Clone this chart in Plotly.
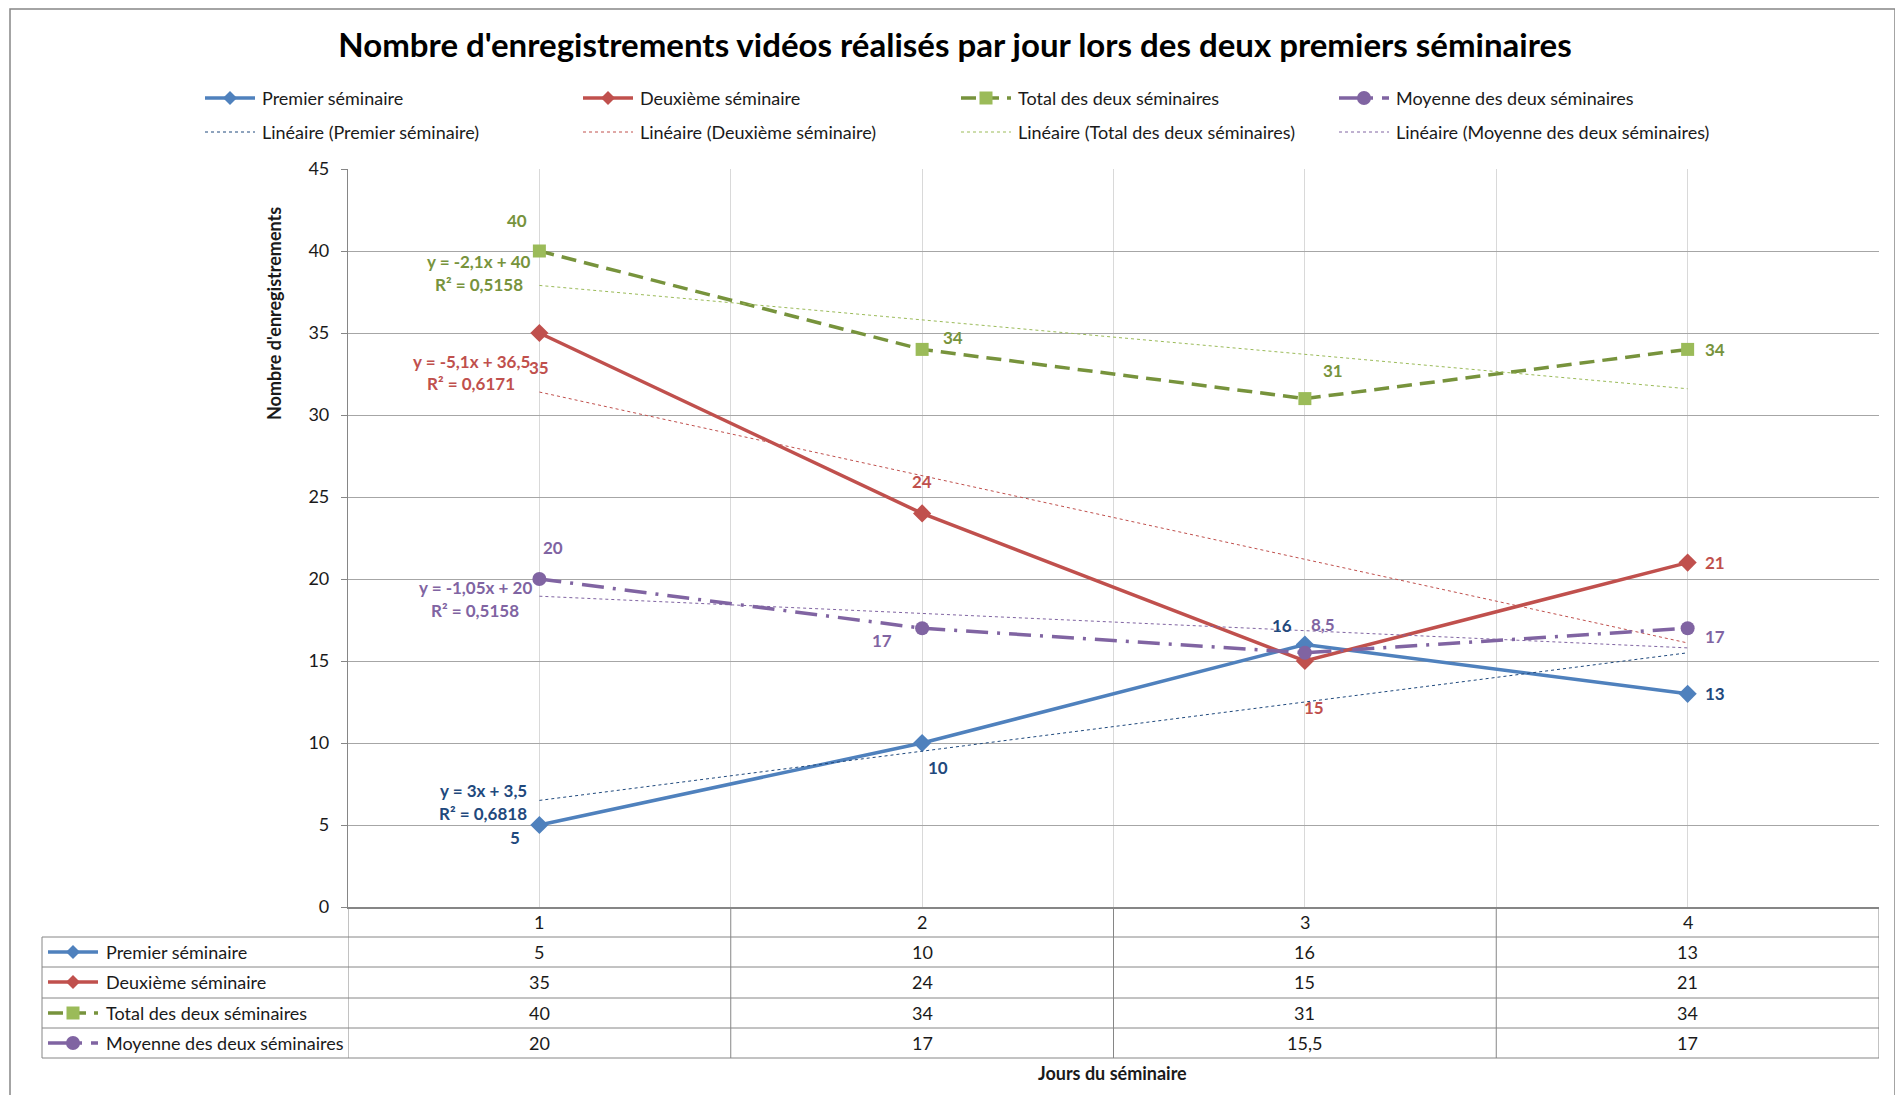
import numpy as np
import plotly.graph_objects as go

# ── data ──
days = [1, 2, 3, 4]
day_labels = ["1", "2", "3", "4"]
premier = [5, 10, 16, 13]
deuxieme = [35, 24, 15, 21]
total = [40, 34, 31, 34]
moyenne = [20, 17, 15.5, 17]
series_names = ["Premier séminaire", "Deuxième séminaire",
                "Total des deux séminaires", "Moyenne des deux séminaires"]
# data labels as printed on the chart
labels_premier = ["5", "10", "16", "13"]
labels_deuxieme = ["35", "24", "15", "21"]
labels_total = ["40", "34", "31", "34"]
labels_moyenne = ["20", "17", "8,5", "17"]
y_ticks = [0, 5, 10, 15, 20, 25, 30, 35, 40, 45]

TITLE = "Nombre d'enregistrements vidéos réalisés par jour lors des deux premiers séminaires"
Y_TITLE = "Nombre d'enregistrements"
X_TITLE = "Jours du séminaire"

# ── theme ──
FONT = "Lato, 'Open Sans', sans-serif"
TXT = "#1a1a1a"
GRID_H = "#a6a6a6"
GRID_V = "#d9d9d9"
AXIS = "#868686"

# the page body keeps an 8px margin: size the figure so the page is exactly the window
OFF = 8
W_FIG, H_FIG = 1903 - 2 * OFF, 1103 - 2 * OFF
# plot area, in window pixels
L, R, T, B = 348, 1879, 169, 907


def px(x):
    return (x - L) / (R - L)


def py(y):
    return (B - y) / (B - T)


STYLES = [
    dict(line="#4F81BD", marker="#4F81BD", label="#1F497D", trend="#1F497D",
         dash="solid", symbol="diamond", size=14,
         offsets=[(-24, -12), (16, -24), (-23, 19), (27, 0)], eq=(483, 790, 813)),
    dict(line="#C0504D", marker="#C0504D", label="#C0504D", trend="#C0504D",
         dash="solid", symbol="diamond", size=14,
         offsets=[(0, -34), (0, 32), (9, -46), (27, 0)], eq=(471, 361, 383)),
    dict(line="#77933C", marker="#9BBB59", label="#77933C", trend="#9BBB59",
         dash="15px,8px", symbol="square", size=13,
         offsets=[(-22, 31), (31, 12), (28, 28), (27, 0)], eq=(479, 262, 284)),
    dict(line="#8064A2", marker="#8064A2", label="#8064A2", trend="#8064A2",
         dash="22px,9px,3px,9px", symbol="circle", size=14,
         offsets=[(14, 32), (-40, -12), (18, 28), (27, -8)], eq=(475, 587, 610)),
]

values = [premier, deuxieme, total, moyenne]
labels = [labels_premier, labels_deuxieme, labels_total, labels_moyenne]


def fr(v):
    return f"{round(v, 4):g}".replace(".", ",")


fig = go.Figure()
annotations = []
shapes = []

x = np.array(days, dtype=float)
for name, vals, labs, st in zip(series_names, values, labels, STYLES):
    y = np.array(vals, dtype=float)
    slope, intercept = np.polyfit(x, y, 1)
    fit = slope * x + intercept
    r2 = 1 - ((y - fit) ** 2).sum() / ((y - y.mean()) ** 2).sum()

    fig.add_trace(go.Scatter(
        x=days, y=vals, mode="lines+markers", name=name,
        line=dict(color=st["line"], width=3.5, dash=st["dash"]),
        marker=dict(symbol=st["symbol"], size=st["size"], color=st["marker"]),
        showlegend=False,
    ))
    fig.add_trace(go.Scatter(
        x=days, y=fit, mode="lines", name=f"Linéaire ({name})",
        line=dict(color=st["trend"], width=1, dash="dot"),
        showlegend=False,
    ))

    for d, v, t, (dx, dy) in zip(days, vals, labs, st["offsets"]):
        annotations.append(dict(
            x=d, y=v, xref="x", yref="y", text=f"<b>{t}</b>", showarrow=False,
            xanchor="center", yanchor="middle",
            xshift=dx, yshift=dy, font=dict(family=FONT, size=17, color=st["label"]),
        ))

    # trendline equation box
    sign = "+" if intercept >= 0 else "-"
    eq1 = f"y = {fr(slope)}x {sign} {fr(abs(intercept))}"
    eq2 = f"R² = {r2:.4f}".replace(".", ",")
    cx, y1, y2 = st["eq"]
    for txt, yy in ((eq1, y1), (eq2, y2)):
        annotations.append(dict(
            x=px(cx), y=py(yy), xref="paper", yref="paper", text=f"<b>{txt}</b>",
            showarrow=False, xanchor="center", yanchor="middle",
            font=dict(family=FONT, size=17, color=st["label"]),
        ))


def key(x0, yc, st, trend=False, length=50):
    """legend key: line with marker in the middle"""
    if trend:
        shapes.append(dict(type="line", xref="paper", yref="paper",
                           x0=px(x0), x1=px(x0 + length), y0=py(yc), y1=py(yc),
                           line=dict(color=st["trend"], width=1, dash="dot")))
        return
    shapes.append(dict(type="line", xref="paper", yref="paper",
                       x0=px(x0), x1=px(x0 + length), y0=py(yc), y1=py(yc),
                       line=dict(color=st["line"], width=3.5, dash=st["dash"])))
    cx = x0 + length / 2
    if st["symbol"] == "diamond":
        r = 7
        path = (f"M {px(cx - r)},{py(yc)} L {px(cx)},{py(yc - r)} "
                f"L {px(cx + r)},{py(yc)} L {px(cx)},{py(yc + r)} Z")
        shapes.append(dict(type="path", xref="paper", yref="paper", path=path,
                           fillcolor=st["marker"], line=dict(width=0)))
    elif st["symbol"] == "square":
        r = 6.5
        shapes.append(dict(type="rect", xref="paper", yref="paper",
                           x0=px(cx - r), x1=px(cx + r), y0=py(yc + r), y1=py(yc - r),
                           fillcolor=st["marker"], line=dict(width=0)))
    else:
        r = 7
        shapes.append(dict(type="circle", xref="paper", yref="paper",
                           x0=px(cx - r), x1=px(cx + r), y0=py(yc + r), y1=py(yc - r),
                           fillcolor=st["marker"], line=dict(width=0)))


# ── top legend (4 columns x 2 rows) ──
for i, (name, st) in enumerate(zip(series_names, STYLES)):
    x0 = 205 + 378 * i
    key(x0, 98, st)
    annotations.append(dict(x=px(x0 + 55), y=py(98), xref="paper", yref="paper",
                            text=name, showarrow=False, xanchor="left", yanchor="middle",
                            font=dict(family=FONT, size=18, color=TXT)))
    key(x0, 132, st, trend=True)
    annotations.append(dict(x=px(x0 + 55), y=py(132), xref="paper", yref="paper",
                            text=f"Linéaire ({name})", showarrow=False, xanchor="left",
                            yanchor="middle", font=dict(family=FONT, size=18, color=TXT)))

# ── data table under the plot ──
row_lines = [937, 967, 998, 1028, 1058]
row_centers = [952, 982, 1013, 1043]
TABLE_LEFT = 42
for yy in row_lines:
    shapes.append(dict(type="line", xref="paper", yref="paper",
                       x0=px(TABLE_LEFT), x1=1, y0=py(yy), y1=py(yy),
                       line=dict(color=AXIS, width=1)))
shapes.append(dict(type="line", xref="paper", yref="paper",
                   x0=px(TABLE_LEFT), x1=px(TABLE_LEFT), y0=py(937), y1=py(1058),
                   line=dict(color=AXIS, width=1)))
for xb in [0.5, 1.5, 2.5, 3.5, 4.5]:
    shapes.append(dict(type="line", xref="x", yref="paper",
                       x0=xb, x1=xb, y0=py(907), y1=py(1058),
                       line=dict(color=AXIS, width=1)))

for d, t in zip(days, day_labels):
    annotations.append(dict(x=d, y=py(922), xref="x", yref="paper", text=t,
                            showarrow=False, xanchor="center", yanchor="middle",
                            font=dict(family=FONT, size=18, color=TXT)))

for name, vals, st, yc in zip(series_names, values, STYLES, row_centers):
    key(48, yc, st)
    annotations.append(dict(x=px(104), y=py(yc), xref="paper", yref="paper", text=name,
                            showarrow=False, xanchor="left", yanchor="middle",
                            font=dict(family=FONT, size=18, color=TXT)))
    for d, v in zip(days, vals):
        annotations.append(dict(x=d, y=py(yc), xref="x", yref="paper", text=fr(v),
                                showarrow=False, xanchor="center", yanchor="middle",
                                font=dict(family=FONT, size=18, color=TXT)))

# ── axis titles ──
annotations.append(dict(x=px(274), y=py(314), xref="paper", yref="paper",
                        text=f"<b>{Y_TITLE}</b>", textangle=-90, showarrow=False,
                        xanchor="center", yanchor="middle",
                        font=dict(family=FONT, size=18, color=TXT)))
annotations.append(dict(x=px(1112), y=py(1073), xref="paper", yref="paper",
                        text=f"<b>{X_TITLE}</b>", showarrow=False,
                        xanchor="center", yanchor="middle",
                        font=dict(family=FONT, size=18, color=TXT)))

# chart border
shapes.append(dict(type="rect", xref="paper", yref="paper",
                   x0=px(10), x1=px(1895), y0=py(1120), y1=py(9),
                   line=dict(color=AXIS, width=1.5), layer="below"))

fig.update_layout(
    width=W_FIG, height=H_FIG,
    paper_bgcolor="white", plot_bgcolor="white",
    margin=dict(l=L - OFF, r=1903 - R - OFF, t=T - OFF, b=1103 - B - OFF),
    font=dict(family=FONT, color=TXT, size=18),
    title=dict(text=f"<b>{TITLE}</b>", x=(955 - OFF) / W_FIG, y=1 - (45 - OFF) / H_FIG,
               xanchor="center", yanchor="middle",
               font=dict(family=FONT, size=33, color="#000000")),
    xaxis=dict(range=[0.5, 4.5], tickvals=days, showticklabels=False,
               showgrid=True, gridcolor=GRID_V, gridwidth=1,
               minor=dict(tick0=0.5, dtick=1, showgrid=True, gridcolor=GRID_V, gridwidth=1),
               zeroline=False, showline=True, linecolor=AXIS, linewidth=1.5),
    yaxis=dict(range=[0, 45], tickvals=y_ticks, showgrid=True, gridcolor=GRID_H,
               gridwidth=1.2, zeroline=False, showline=True, linecolor=AXIS,
               linewidth=1.2, ticks="outside", ticklen=6, tickcolor=AXIS,
               ticklabelstandoff=8,
               tickfont=dict(family=FONT, size=18, color=TXT)),
    showlegend=False,
    annotations=annotations,
    shapes=shapes,
)

fig.write_html("out.html")
